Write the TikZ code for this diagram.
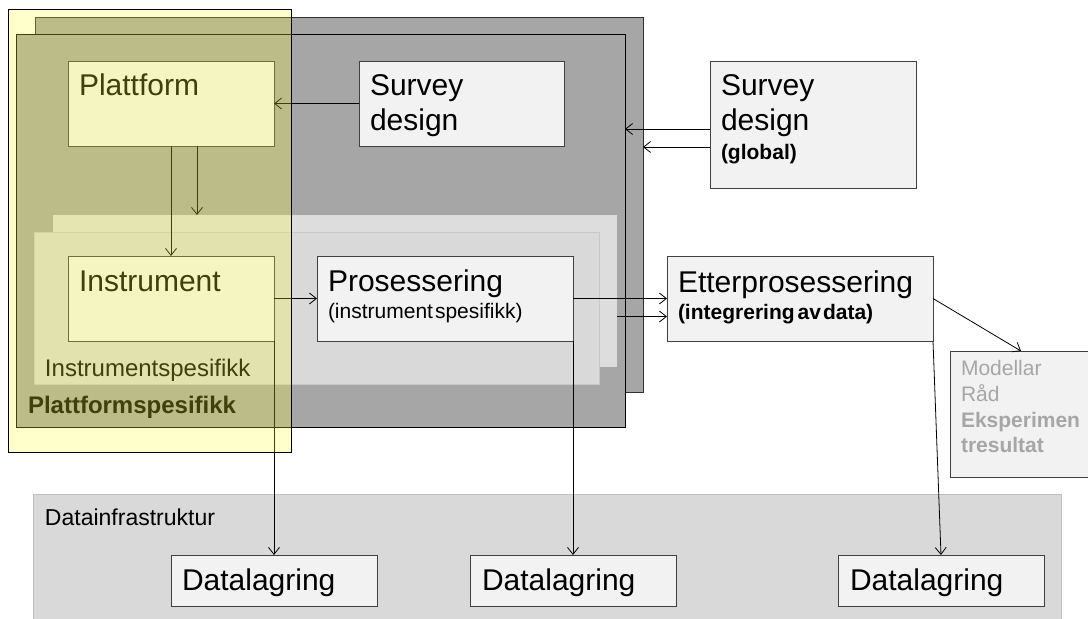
\documentclass[tikz,border=0pt]{standalone}
\usepackage{fontspec}
\setmainfont{Liberation Sans}
\usetikzlibrary{arrows.meta}

\definecolor{panelgray}{HTML}{A6A6A6}
\definecolor{panelline}{HTML}{303030}
\definecolor{lightpanel}{HTML}{DDDDDD}
\definecolor{lightpanelb}{HTML}{D9D9D9}
\definecolor{lightpanelline}{HTML}{C8C8C8}
\definecolor{boxfill}{HTML}{F2F2F2}
\definecolor{boxline}{HTML}{404040}
\definecolor{infrafill}{HTML}{D9D9D9}
\definecolor{infraline}{HTML}{BFBFBF}
\definecolor{tint}{RGB}{255,255,51}
\definecolor{mutedtext}{HTML}{A6A6A6}

\tikzset{
  frame/.style={anchor=north west, inner sep=0pt, outer sep=0pt, line width=0.9pt},
  panel/.style={frame, fill=panelgray, draw=panelline},
  box/.style={frame, fill=boxfill, draw=boxline},
  conn/.style={line width=0.8pt, -{Straight Barb[length=7pt,width=11pt,line width=0.8pt]}},
  lbl/.style={anchor=base west, inner sep=0pt, outer sep=0pt},
  bigtext/.style={lbl, font=\fontsize{30}{35}\selectfont},
  subtext/.style={lbl, font=\fontsize{21}{25}\selectfont},
  subbold/.style={lbl, font=\fontsize{21}{25}\selectfont\bfseries},
  midtext/.style={lbl, font=\fontsize{24}{28}\selectfont},
}

\begin{document}
\begin{tikzpicture}[x=1pt,y=-1pt]
\useasboundingbox (0,0) rectangle (1088,619);

% stacked platform panels
\node[panel, minimum width=608pt, minimum height=375pt] (b1) at (35,17) {};
\node[panel, draw=black, minimum width=609pt, minimum height=393pt] (b2) at (16,34) {};

% stacked instrument panels
\node[frame, fill=lightpanel, draw=none, minimum width=564pt, minimum height=152pt] (lone) at (53,215) {};
\node[frame, fill=lightpanelb, draw=lightpanelline, line width=0.6pt, minimum width=565pt, minimum height=152pt] (ltwo) at (34,232) {};

% process boxes
\node[box, minimum width=206pt, minimum height=85pt] (plat) at (68,61) {};
\node[box, minimum width=205pt, minimum height=85pt] (surv) at (359,61) {};
\node[box, minimum width=206pt, minimum height=127pt] (glob) at (710,61) {};
\node[box, minimum width=206pt, minimum height=85pt] (instr) at (68,256) {};
\node[box, minimum width=256pt, minimum height=85pt] (pros) at (317,256) {};
\node[box, minimum width=266pt, minimum height=85pt] (etter) at (667,256) {};
\node[box, minimum width=160pt, minimum height=126pt] (modl) at (950,351) {};

% data infrastructure
\node[frame, fill=infrafill, draw=infraline, minimum width=1028pt, minimum height=140pt] (infra) at (33,494) {};
\node[box, minimum width=206pt, minimum height=51pt] (dl1) at (171,555) {};
\node[box, minimum width=206pt, minimum height=51pt] (dl2) at (470,555) {};
\node[box, minimum width=206pt, minimum height=51pt] (dl3) at (838,555) {};

% labels
\node[bigtext] (plat-t) at (79,95) {Plattform};
\node[bigtext] (surv-t1) at (370,95) {Survey};
\node[bigtext] (surv-t2) at (370,130) {design};
\node[bigtext] (glob-t1) at (721,95) {Survey};
\node[bigtext] (glob-t2) at (721,130) {design};
\node[subbold] (glob-t3) at (721,159) {(global)};
\node[bigtext] (instr-t) at (79,291) {Instrument};
\node[bigtext] (pros-t1) at (328,291) {Prosessering};
\node[subtext] (pros-t2) at (328,318) {(instrument\hspace{2pt}spesifikk)};
\node[bigtext] (etter-t1) at (678,292) {Etterprosessering};
\node[subbold] (etter-t2) at (678,319) {(integrering\hspace{3pt}av\hspace{2pt}data)};
\node[midtext] (inst-area) at (45,376) {Instrumentspesifikk};
\node[midtext, font=\fontsize{24}{28}\selectfont\bfseries] (plat-area) at (28,413) {Plattformspesifikk};
\node[subtext, text=mutedtext] (modl-t1) at (961,375) {Modellar};
\node[subtext, text=mutedtext] (modl-t2) at (961,401) {Råd};
\node[subbold, text=mutedtext] (modl-t3) at (961,427) {Eksperimen};
\node[subbold, text=mutedtext] (modl-t4) at (961,452) {tresultat};
\node[midtext, font=\fontsize{23}{27}\selectfont] (infra-t) at (45,525) {Datainfrastruktur};
\node[bigtext] (dl1-t) at (182,590) {Datalagring};
\node[bigtext] (dl2-t) at (482,590) {Datalagring};
\node[bigtext] (dl3-t) at (850,590) {Datalagring};

% connectors
\draw[conn] (surv.west) -- (plat.east);
\draw[conn] (plat.south) -- (instr.north);
\coordinate (pdrop) at ([xshift=26pt]plat.south);
\draw[conn] (pdrop) -- (pdrop |- lone.north);
\draw[conn] (instr.east) -- (pros.west);
\draw[conn] (pros.east) -- (etter.west);
\coordinate (etin) at ([yshift=-18pt]etter.west);
\draw[conn] (etin -| lone.east) -- (etin);
\coordinate (gl1) at ([yshift=-4.5pt]glob.west);
\draw[conn] (gl1) -- (gl1 -| b2.east);
\coordinate (gl2) at ([yshift=-22.5pt]glob.west);
\draw[conn] (gl2) -- (gl2 -| b1.east);
\draw[conn] (etter.east) -- ([xshift=71pt]modl.north west);
\draw[conn] (instr.south east) -- (instr.south east |- dl1.north);
\draw[conn] (pros.south east) -- (pros.south east |- dl2.north);
\draw[conn] (etter.south east) -- (dl3.north);

% translucent platform-specific overlay
\node[frame, fill=tint, fill opacity=0.25, draw=black, draw opacity=1,
      minimum width=283pt, minimum height=443pt] (platzone) at (8,9) {};
\end{tikzpicture}
\end{document}
